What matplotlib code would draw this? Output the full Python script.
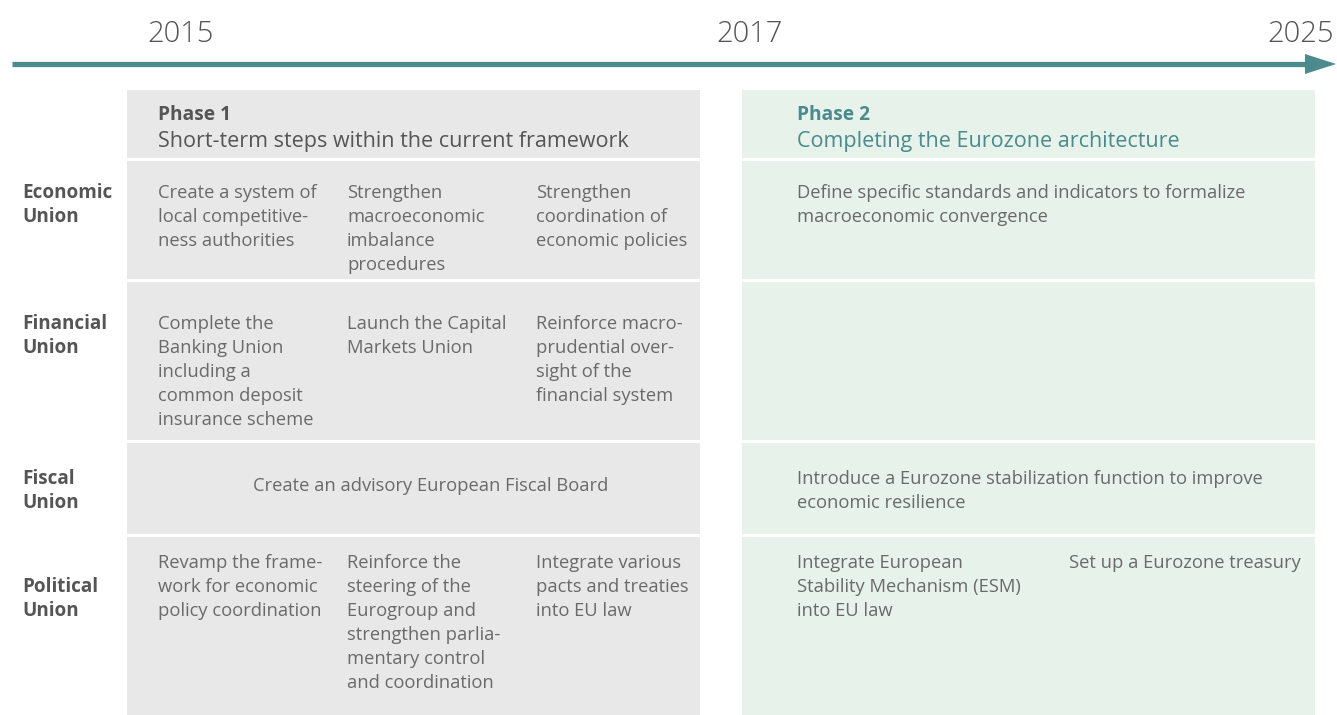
import matplotlib
matplotlib.use("Agg")
from matplotlib import pyplot as plt
from matplotlib.patches import Rectangle, Polygon

plt.rcParams['font.family'] = ['Open Sans', 'DejaVu Sans']

# timeline
years = ['2015', '2017', '2025']

# phases
phase_titles = ['Phase 1', 'Phase 2']
phase_subtitles = ['Short-term steps within the current framework',
                   'Completing the Eurozone architecture']

# rows
row_labels = [['Economic', 'Union'], ['Financial', 'Union'],
              ['Fiscal', 'Union'], ['Political', 'Union']]

# phase 1 cells, one list per row, each cell a list of lines
phase1_cells = [
    [['Create a system of', 'local competitive-', 'ness authorities'],
     ['Strengthen', 'macroeconomic', 'imbalance', 'procedures'],
     ['Strengthen', 'coordination of', 'economic policies']],
    [['Complete the', 'Banking Union', 'including a', 'common deposit', 'insurance scheme'],
     ['Launch the Capital', 'Markets Union'],
     ['Reinforce macro-', 'prudential over-', 'sight of the', 'financial system']],
    [['Create an advisory European Fiscal Board']],
    [['Revamp the frame-', 'work for economic', 'policy coordination'],
     ['Reinforce the', 'steering of the', 'Eurogroup and', 'strengthen parlia-', 'mentary control', 'and coordination'],
     ['Integrate various', 'pacts and treaties', 'into EU law']],
]

# phase 2 cells
phase2_cells = [
    [['Define specific standards and indicators to formalize', 'macroeconomic convergence']],
    [],
    [['Introduce a Eurozone stabilization function to improve', 'economic resilience']],
    [['Integrate European', 'Stability Mechanism (ESM)', 'into EU law'],
     ['Set up a Eurozone treasury']],
]

TEAL = '#4b8a8d'
GREY_BOX = '#e8e8e8'
GREEN_BOX = '#e6f2ea'
TEXT = '#6a6a6a'
LABEL = '#555555'

fig = plt.figure(figsize=(13.37, 7.15), dpi=100)
ax = fig.add_axes([0, 0, 1, 1])
ax.set_xlim(0, 1337)
ax.set_ylim(715, 0)
ax.axis('off')

# arrow
ax.plot([12, 1308], [64, 64], color=TEAL, lw=3.8, solid_capstyle='butt')
ax.add_patch(Polygon([[1305, 54], [1336, 64], [1305, 74]], closed=True, color=TEAL, lw=0))

year_x = [181, 750, 1334]
year_ha = ['center', 'center', 'right']
for yr, x, ha in zip(years, year_x, year_ha):
    ax.text(x, 34, yr, ha=ha, va='center', fontsize=21, color=LABEL, fontweight='light')

# boxes: header + 4 rows
row_tops = [90, 161, 282, 443, 537]
row_bots = [158, 279, 440, 534, 715]
box_x = [(127, 700), (742, 1315)]
box_colors = [GREY_BOX, GREEN_BOX]
for (x0, x1), c in zip(box_x, box_colors):
    for t, b in zip(row_tops, row_bots):
        ax.add_patch(Rectangle((x0, t), x1 - x0, b - t, color=c, lw=0))

# phase headers
head_colors = [LABEL, TEAL]
head_x = [158, 797]
for title, sub, x, c in zip(phase_titles, phase_subtitles, head_x, head_colors):
    ax.text(x, 115, title, ha='left', va='center', fontsize=13.8, fontweight='bold', color=c)
    ax.text(x, 142, sub, ha='left', va='center', fontsize=15.5, color=c)

LINE = 24

def draw_lines(x, y, lines, ha='left', **kw):
    for i, ln in enumerate(lines):
        ax.text(x, y + i * LINE, ln, ha=ha, va='center', **kw)

# row labels
label_y = [193, 324, 479, 587]
for lab, y in zip(row_labels, label_y):
    draw_lines(22, y, lab, fontsize=13.6, fontweight='bold', color=LABEL)

# phase 1 cells
p1_x = [158, 347, 536]
p1_y = [193, 324, 486, 563]
for r, cells in enumerate(phase1_cells):
    if len(cells) == 1:
        draw_lines(431, p1_y[r], cells[0], ha='center', fontsize=13.2, color=TEXT)
    else:
        for x, cell in zip(p1_x, cells):
            draw_lines(x, p1_y[r], cell, fontsize=13.2, color=TEXT)

# phase 2 cells
p2_x = [797, 1069]
p2_y = [193, 324, 479, 563]
for r, cells in enumerate(phase2_cells):
    for x, cell in zip(p2_x, cells):
        draw_lines(x, p2_y[r], cell, fontsize=13.2, color=TEXT)

fig.savefig('out.png', dpi=100, facecolor='white')
